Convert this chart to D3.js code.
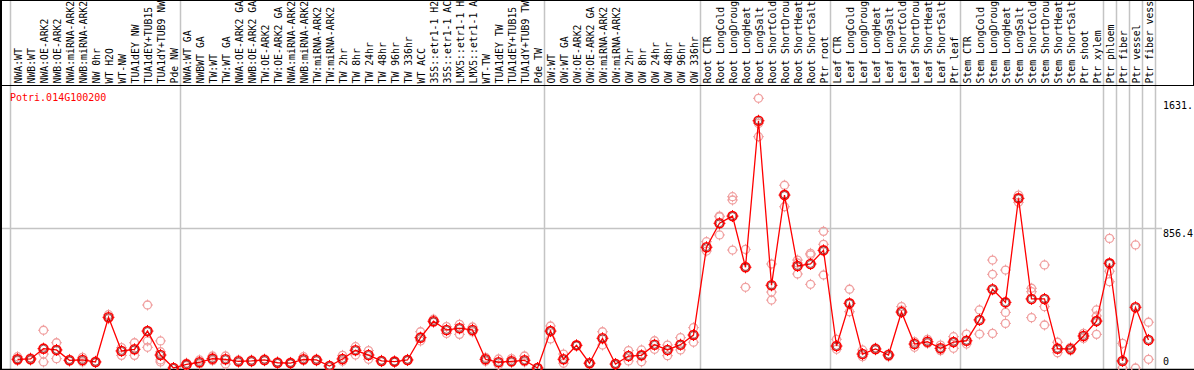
<!DOCTYPE html>
<html><head><meta charset="utf-8">
<script src="https://cdn.jsdelivr.net/npm/d3@7/dist/d3.min.js"></script>
<style>html,body{margin:0;padding:0;background:#fff;}svg{display:block;}</style>
</head><body>
<script>
const title = "Potri.014G100200";
const labels = ["NWA:WT","NWB:WT","NWA:OE-ARK2","NWB:OE-ARK2","NWA:miRNA-ARK2","NWB:miRNA-ARK2","NW 0hr","WT H2O","WT-NW","TUA1dEY NW","TUA1dEY+TUB15 NW","TUA1dY+TUB9 NW","Pde NW",
"NWA:WT GA","NWBWT GA","TW:WT","TW:WT GA","NWA:OE-ARK2 GA","NWB:OE-ARK2 GA","TW:OE-ARK2","TW:OE-ARK2 GA","NWA:miRNA-ARK2","NWB:miRNA-ARK2","TW:miRNA-ARK2","TW:miRNA-ARK2 ","TW 2hr","TW 8hr","TW 24hr","TW 48hr","TW 96hr","TW 336hr","WT ACC","35S::etr1-1 H2O","35S::etr1-1 ACC","LMX5::etr1-1 H2O","LMX5::etr1-1 ACC","WT-TW","TUA1dEY TW","TUA1dEY+TUB15 TW","TUA1dY+TUB9 TW","Pde TW",
"OW:WT","OW:WT GA","OW:OE-ARK2","OW:OE-ARK2 GA","OW:miRNA-ARK2","OW:miRNA-ARK2 ","OW 2hr","OW 8hr","OW 24hr","OW 48hr","OW 96hr","OW 336hr",
"Root CTR","Root LongCold","Root LongDrought","Root LongHeat","Root LongSalt","Root ShortCold","Root ShortDrought","Root ShortHeat","Root ShortSalt","Ptr root",
"Leaf CTR","Leaf LongCold","Leaf LongDrought","Leaf LongHeat","Leaf LongSalt","Leaf ShortCold","Leaf ShortDrought","Leaf ShortHeat","Leaf ShortSalt","Ptr leaf",
"Stem CTR","Stem LongCold","Stem LongDrought","Stem LongHeat","Stem LongSalt","Stem ShortCold","Stem ShortDrought","Stem ShortHeat","Stem ShortSalt","Ptr shoot","Ptr xylem",
"Ptr phloem","Ptr fiber","Ptr vessel","Ptr fiber vessel"];
const means = [53,55,118,110,47,49,37,309,104,114,225,79,0,
22,35,57,53,41,43,49,32,30,53,49,12,55,108,79,43,39,49,185,285,232,242,232,53,35,41,47,0,
225,53,138,29,181,24,73,77,142,110,142,201,
736,882,926,614,1507,504,1054,622,634,717,
134,394,85,116,79,341,146,160,120,158,
166,293,480,400,1034,421,421,118,116,195,286,
638,43,370,171];
const reps = [[69,55,45],[62,50,47],[230,85,37],[154,57,112],[53,43],[65,37],[41,33],[325,300],[124,77],[154,77,110],[384,165,126],[165,99,49,37],[0,0],
[30,15],[49,25],[73,45],[73,24],[49,33],[49,37],[55,43],[37,28],[35,26],[69,45],[55,43],[16,8],[77,41],[130,79],[106,53],[47,39],[43,35],[53,45],[221,165],[297,278],[252,211],[266,205],[250,220],[65,41],[55,18],[57,33],[73,37],[0,0],
[256,177],[85,29],[140,136],[33,26],[221,140],[28,20],[106,43],[110,38],[166,114],[140,75],[185,110],[246,157],
[770,713],[926,922,811],[1044,1024,719],[723,492,620],[1644,1491,1410],[634,463,414],[1114,983,1060],[658,573,640],[699,510,690],[833,754,567],
[175,114],[480,343],[110,69],[122,110],[85,69],[374,352],[126,160],[175,150],[140,106],[191,120],
[207,146],[354,207],[658,571,211],[597,339,272],[1054,1010],[486,465,307],[628,374,262],[157,93],[126,106],[211,180],[354,317,205],
[790,590,526],[150,0],[750,0],[279,53]];
const groupStarts = [0,13,41,53,63,73,84,85,86,87,88];
const yTicks = [0,856.4,1631];
const yTickText = ["0","856.4","1631."];
const yMax = 1712.8;
const maxLabelChars = 14;

const W = 1194, H = 370;
const svg = d3.select("body").append("svg").attr("width", W).attr("height", H);
const font = "'DejaVu Sans Mono', monospace";

const x = d3.scaleBand().domain(d3.range(labels.length)).range([11, 11 + 13*labels.length]).padding(0);
const cx = i => x(i) + x.bandwidth()/2;
const y = d3.scaleLinear().domain([0, yMax]).range([368, 87]);

// grid
svg.append("line").attr("x1",2).attr("x2",1162).attr("y1",Math.round(y(856.4))+0.5).attr("y2",Math.round(y(856.4))+0.5)
  .attr("stroke","#c4c4c4").attr("stroke-width",1.5);
svg.selectAll("line.sep").data(groupStarts).enter().append("line").attr("class","sep")
  .attr("x1", d => d===0 ? 10.5 : (d<labels.length ? x(d) : x(labels.length-1)+13)+0.5)
  .attr("x2", d => d===0 ? 10.5 : (d<labels.length ? x(d) : x(labels.length-1)+13)+0.5)
  .attr("y1",0).attr("y2",H).attr("stroke","#c4c4c4").attr("stroke-width",1.5);

// frame
svg.append("line").attr("x1",0).attr("x2",W).attr("y1",85.5).attr("y2",85.5).attr("stroke","#000").attr("stroke-width",1.2);
svg.append("line").attr("x1",0).attr("x2",W).attr("y1",369.5).attr("y2",369.5).attr("stroke","#000").attr("stroke-width",1.5);
svg.append("line").attr("x1",0).attr("x2",W).attr("y1",0.5).attr("y2",0.5).attr("stroke","#000").attr("stroke-width",1);
svg.append("line").attr("x1",1).attr("x2",1).attr("y1",0).attr("y2",H).attr("stroke","#000").attr("stroke-width",2);
svg.append("line").attr("x1",W-0.5).attr("x2",W-0.5).attr("y1",0).attr("y2",86).attr("stroke","#000").attr("stroke-width",1);

// column labels (truncated to the space above the plot, as in the reference)
svg.selectAll("text.lab").data(labels).enter().append("text").attr("class","lab")
  .attr("transform",(d,i)=>`translate(${cx(i)+4},83.5) rotate(-90)`)
  .attr("font-family",font).attr("font-size","9.8px").attr("fill","#000")
  .text(d=>d.trim().slice(0, maxLabelChars).trim());

// title
svg.append("text").attr("x",10).attr("y",101).attr("font-family",font).attr("font-size","10px").attr("fill","#ff0000").text(title);

// y tick labels
svg.selectAll("text.yt").data(yTicks).enter().append("text").attr("class","yt")
  .attr("x",1163).attr("y",d=>Math.min(y(d)+9, 365))
  .attr("font-family",font).attr("font-size","10px").attr("fill","#000")
  .text((d,i)=>yTickText[i]);

function marker(g, px, py, color, r, sw){
  g.append("circle").attr("cx",px).attr("cy",py).attr("r",r).attr("fill","none").attr("stroke",color).attr("stroke-width",sw);
  const t = r + 1.5;
  g.append("path").attr("d",`M${px},${py-t}V${py-r+0.5}M${px},${py+r-0.5}V${py+t}M${px-t},${py}H${px-r+0.5}M${px+r-0.5},${py}H${px+t}`)
    .attr("stroke",color).attr("stroke-width",1).attr("fill","none");
}

// replicates
const repG = svg.append("g");
reps.forEach((arr,i)=>arr.forEach(v=>marker(repG, cx(i), y(v), "#f0a0a0", 4, 1.3)));

// mean line
const line = d3.line().x((d,i)=>cx(i)).y(d=>y(d));
svg.append("path").datum(means).attr("d",line).attr("fill","none").attr("stroke","#ff0000").attr("stroke-width",1.3);

// mean markers
const mG = svg.append("g");
means.forEach((v,i)=>{
  marker(mG, cx(i), y(v), "#ff0000", 4.5, 1.6);
  mG.append("circle").attr("cx",cx(i)).attr("cy",y(v)).attr("r",3.4).attr("fill","none").attr("stroke","#5a0000").attr("stroke-width",0.6);
});
</script>
</body></html>
